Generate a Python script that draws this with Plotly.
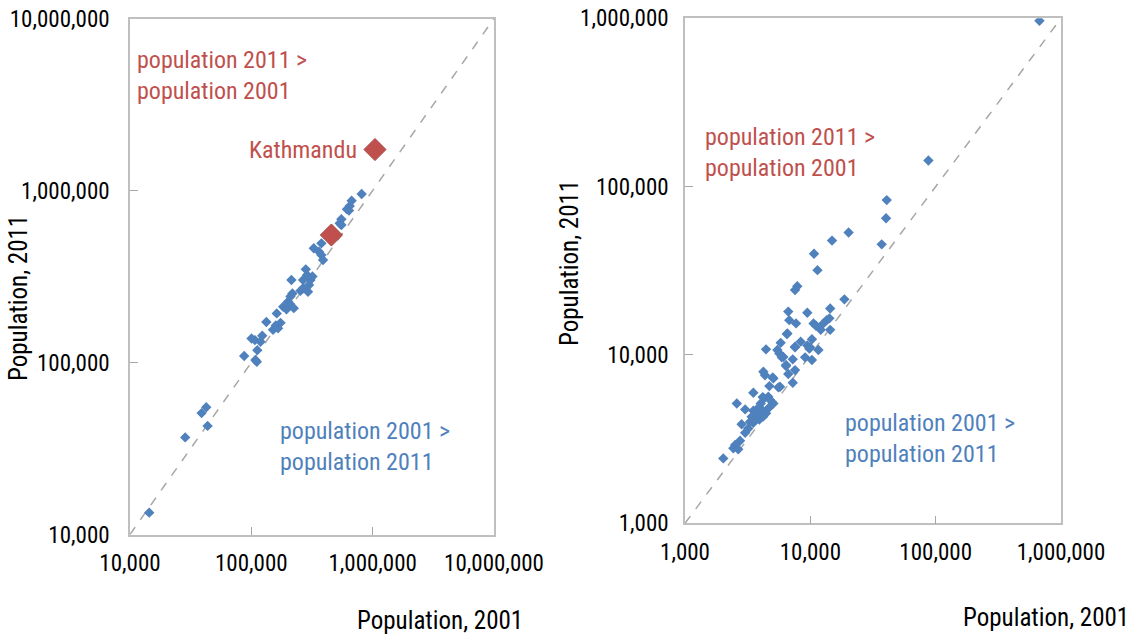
import math
import plotly.graph_objects as go

# District populations (2001 census vs 2011 census)
district_2001 = [14400, 28500, 38900, 42500, 43600, 87300, 100400, 107000, 108000, 111000,
                 123000, 119000, 112000, 133000, 151000, 159000, 166000, 162000, 174000, 183000,
                 195000, 201000, 208000, 210000, 218000, 224000, 214000, 254000, 267000, 281000,
                 288000, 299000, 307000, 319000, 293000, 267000, 811000, 671000, 647000, 614000,
                 638000, 552000, 535000, 552000, 378000, 327000, 361000, 378000, 390000]
district_2011 = [13400, 36700, 50800, 54900, 42800, 109000, 138000, 135000, 103500, 101000,
                 143000, 132000, 118000, 172000, 155000, 164000, 158000, 193000, 170000, 211000,
                 204000, 226000, 219000, 242000, 252000, 207000, 302000, 261000, 270000, 348000,
                 323000, 282000, 302000, 316000, 258000, 302000, 955000, 873000, 813000, 778000,
                 764000, 681000, 645000, 630000, 493000, 462000, 441000, 421000, 394000]

# Highlighted districts
hl_names = ["Kathmandu", ""]
hl_2001 = [1045000, 457000]
hl_2011 = [1730000, 551000]

# Municipality populations (2001 vs 2011)
muni_2001 = [673000, 87500, 40700, 40200, 37100, 20200, 14900, 10700, 11400, 7870,
             7550, 18700, 6670, 9460, 14400, 6790, 7690, 10600, 11100, 12700,
             13500, 14200, 12100, 14400, 6490, 10300, 8370, 9460, 9950, 11600,
             7550, 9080, 10300, 7240, 6090, 6400, 6560, 5800, 7550, 4430,
             5460, 5660, 5920, 6400, 4220, 4350, 5070, 6670, 7550, 7240,
             4710, 5560, 3510, 2590, 4270, 5730, 4020, 3020, 3510, 3400,
             3730, 3920, 3510, 2830, 3200, 3020, 2750, 2510, 2430, 2660,
             2020, 4430, 4630, 5070, 3800, 4100, 3600, 3300, 4200, 3900,
             4170, 4620, 5010, 4770, 9820]
muni_2011 = [968000, 143000, 83200, 64900, 45400, 53400, 47800, 39900, 31900, 25600,
             24300, 21400, 18100, 17800, 18900, 16100, 15400, 15400, 14900, 15400,
             16100, 16500, 14100, 14100, 13300, 12400, 12000, 11400, 11100, 10700,
             11100, 9680, 9330, 9420, 9740, 8600, 13400, 11800, 11200, 10800,
             10700, 10200, 9680, 8710, 7950, 7580, 7260, 7710, 8130, 6840,
             6530, 6420, 5960, 5150, 5520, 6470, 5150, 4750, 4660, 4290,
             4290, 4140, 3950, 3880, 3660, 3450, 3090, 2920, 2790, 2750,
             2430, 4500, 4820, 5150, 4500, 4700, 4100, 4000, 4300, 4900,
             5620, 5650, 7360, 5410, 10900]

left_ticks = [10000, 100000, 1000000, 10000000]
right_ticks = [1000, 10000, 100000, 1000000]

BLUE = "#4F81BD"
RED = "#C0504D"
GREY_LINE = "#A6A6A6"
FONT = "Liberation Sans Narrow, Arial Narrow, Roboto Condensed, sans-serif"

W, H = 1137, 639


def px_x(p):
    return p / W


def px_y(p):
    return 1 - p / H


fig = go.Figure()

# 1:1 reference lines
fig.add_trace(go.Scatter(x=[left_ticks[0], left_ticks[-1]], y=[left_ticks[0], left_ticks[-1]],
                         mode="lines", line=dict(color=GREY_LINE, width=1.5, dash="dash"),
                         xaxis="x", yaxis="y", hoverinfo="skip"))
fig.add_trace(go.Scatter(x=[right_ticks[0], right_ticks[-1]], y=[right_ticks[0], right_ticks[-1]],
                         mode="lines", line=dict(color=GREY_LINE, width=1.5, dash="dash"),
                         xaxis="x2", yaxis="y2", hoverinfo="skip"))

fig.add_trace(go.Scatter(x=district_2001, y=district_2011, mode="markers",
                         marker=dict(symbol="diamond", size=8, color=BLUE),
                         xaxis="x", yaxis="y"))
fig.add_trace(go.Scatter(x=hl_2001, y=hl_2011, mode="markers",
                         marker=dict(symbol="diamond", size=17, color=RED,
                                     line=dict(color="#A94542", width=1)),
                         xaxis="x", yaxis="y"))
fig.add_trace(go.Scatter(x=muni_2001, y=muni_2011, mode="markers",
                         marker=dict(symbol="diamond", size=8, color=BLUE),
                         xaxis="x2", yaxis="y2"))

axis_common = dict(type="log", showgrid=False, zeroline=False, showline=True,
                   linecolor="#BFBFBF", linewidth=1.5, mirror=True, automargin=False,
                   ticks="inside", ticklen=8, tickcolor="#A6A6A6", tickwidth=1,
                   tickformat=",", tickfont=dict(family=FONT, size=23, color="black"))

fig.update_layout(
    width=W, height=H, margin=dict(l=0, r=0, t=0, b=0),
    paper_bgcolor="white", plot_bgcolor="white", showlegend=False,
    xaxis=dict(axis_common, domain=[px_x(130), px_x(494)], range=[4, 7],
               tickvals=left_ticks, anchor="y", ticklabelstandoff=7),
    yaxis=dict(axis_common, domain=[px_y(534.5), px_y(18.5)], range=[4, 7],
               tickvals=left_ticks, anchor="x", ticklabelstandoff=14),
    xaxis2=dict(axis_common, domain=[px_x(685), px_x(1061)], range=[3, 6],
                tickvals=right_ticks, anchor="y2", ticklabelstandoff=7),
    yaxis2=dict(axis_common, domain=[px_y(523.3), px_y(18.3)], range=[3, 6],
                tickvals=right_ticks, anchor="x2", ticklabelstandoff=10),
)

ann_font = dict(family=FONT, size=24)
title_font = dict(family=FONT, size=25, color="black")

annotations = [
    dict(text="population 2011 ><br>population 2001", x=px_x(135), y=px_y(75),
         xanchor="left", yanchor="middle", align="left", font=dict(ann_font, color=RED)),
    dict(text="population 2001 ><br>population 2011", x=px_x(278), y=px_y(446),
         xanchor="left", yanchor="middle", align="left", font=dict(ann_font, color=BLUE)),
    dict(text="population 2011 ><br>population 2001", x=px_x(703), y=px_y(152.5),
         xanchor="left", yanchor="middle", align="left", font=dict(ann_font, color=RED)),
    dict(text="population 2001 ><br>population 2011", x=px_x(843), y=px_y(438.3),
         xanchor="left", yanchor="middle", align="left", font=dict(ann_font, color=BLUE)),
    dict(text="Population, 2011", x=px_x(18), y=px_y(298), textangle=-90,
         xanchor="center", yanchor="middle", font=title_font),
    dict(text="Population, 2001", x=px_x(440), y=px_y(620),
         xanchor="center", yanchor="middle", font=title_font),
    dict(text="Population, 2011", x=px_x(570), y=px_y(263), textangle=-90,
         xanchor="center", yanchor="middle", font=title_font),
    dict(text="Population, 2001", x=px_x(1046), y=px_y(617),
         xanchor="center", yanchor="middle", font=title_font),
]
for a in annotations:
    a.update(xref="paper", yref="paper", showarrow=False)
    fig.add_annotation(**a)

# Label for the highlighted capital district (log axes take log10 positions)
fig.add_annotation(x=math.log10(hl_2001[0]), y=math.log10(hl_2011[0]), xref="x", yref="y",
                   text=hl_names[0], showarrow=False, xanchor="right", yanchor="middle",
                   xshift=-16, font=dict(ann_font, color=RED))

fig.write_html("out.html")
